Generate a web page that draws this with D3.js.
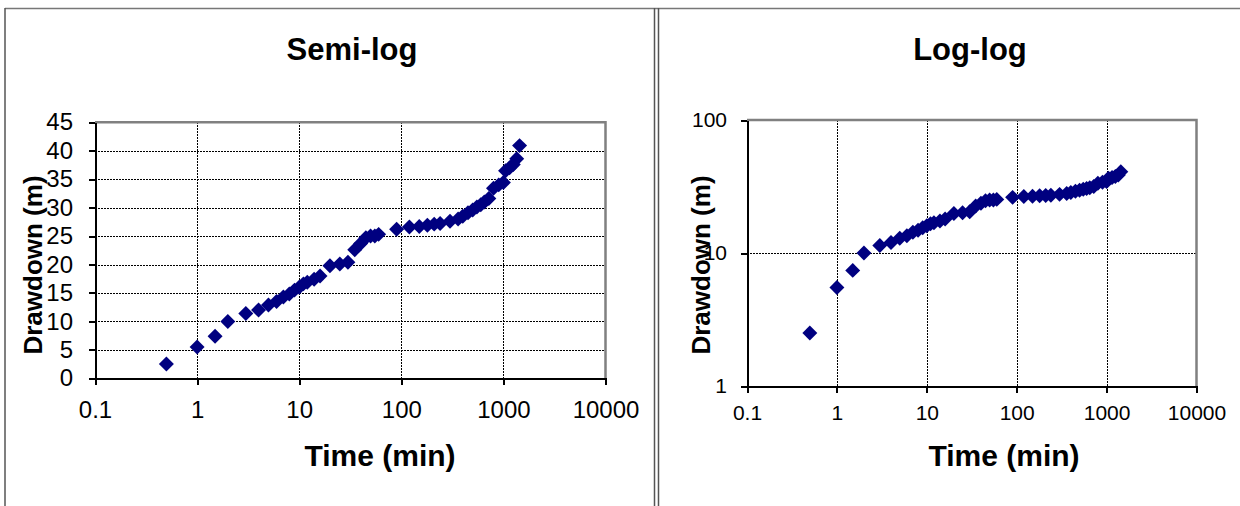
<!DOCTYPE html>
<html>
<head>
<meta charset="utf-8">
<script src="https://cdn.jsdelivr.net/npm/d3@7"></script>
<style>
  body { margin: 0; background: #fff; }
  svg { display: block; font-family: Arial, "Liberation Sans", sans-serif; }
  .grid line { stroke: #000; stroke-width: 1; stroke-dasharray: 2,1; shape-rendering: crispEdges; }
  .axis path, .axis line { stroke: #000; stroke-width: 2; shape-rendering: crispEdges; }
  .axis text { fill: #000; }
</style>
</head>
<body>
<svg width="1240" height="506"></svg>
<script>
// pumping test readings
const timeMin = [0.5, 1, 1.5, 2, 3, 4, 5, 6, 7, 8, 9, 10, 11, 12, 14, 16, 20, 25, 30, 35, 40, 45, 50, 55, 60,
  90, 120, 150, 180, 210, 240, 300, 360, 400, 450, 500, 550, 600, 650, 720, 800, 900, 1000, 1050, 1150, 1250, 1350, 1440];
const drawdown = [2.5, 5.5, 7.4, 10.0, 11.4, 12.0, 12.9, 13.5, 14.3, 14.8, 15.5, 16.0, 16.6, 16.9, 17.4, 18.0, 19.8, 20.1, 20.4, 22.6, 23.7, 24.7, 25.0, 25.0, 25.3,
  26.2, 26.6, 26.7, 26.9, 27.1, 27.2, 27.6, 28.0, 28.5, 29.1, 29.6, 30.1, 30.5, 31.0, 31.6, 33.4, 34.0, 34.4, 36.5, 37.0, 37.6, 38.6, 40.9];

const timeTicks = [0.1, 1, 10, 100, 1000, 10000];
const timeTickLabels = ["0.1", "1", "10", "100", "1000", "10000"];
const semiTicks = [0, 5, 10, 15, 20, 25, 30, 35, 40, 45];
const logTicks = [1, 10, 100];

const points = timeMin.map((t, i) => ({t: t, s: drawdown[i]}));
const svg = d3.select("svg");

// page frame (table cell borders)
svg.append("line").attr("x1", 5).attr("x2", 1240).attr("y1", 8.5).attr("y2", 8.5).attr("stroke", "#777").attr("stroke-width", 1.5);
svg.append("line").attr("x1", 5).attr("x2", 5).attr("y1", 8).attr("y2", 506).attr("stroke", "#555").attr("stroke-width", 1.5);
svg.append("line").attr("x1", 654.5).attr("x2", 654.5).attr("y1", 8).attr("y2", 506).attr("stroke", "#555").attr("stroke-width", 1.5);
svg.append("line").attr("x1", 658.5).attr("x2", 658.5).attr("y1", 8).attr("y2", 506).attr("stroke", "#555").attr("stroke-width", 1.5);

function drawPanel(o) {
  const g = svg.append("g");
  const x = o.x, y = o.y;
  const [x0, x1] = x.range(), [y0, y1] = y.range();

  // gridlines
  g.append("g").attr("class", "grid").selectAll("line")
    .data(timeTicks.slice(1, -1)).enter().append("line")
    .attr("x1", d => Math.round(x(d)) + 0.5).attr("x2", d => Math.round(x(d)) + 0.5)
    .attr("y1", y1).attr("y2", y0);
  g.append("g").attr("class", "grid").selectAll("line")
    .data(o.yTicks.slice(1, -1)).enter().append("line")
    .attr("x1", x0).attr("x2", x1)
    .attr("y1", d => Math.round(y(d)) + 0.5).attr("y2", d => Math.round(y(d)) + 0.5);

  // plot area border (grey top/right)
  g.append("path")
    .attr("d", `M${x0},${y1}H${x1}V${y0}`)
    .attr("fill", "none").attr("stroke", "#808080").attr("stroke-width", 2.5);

  const xAxis = d3.axisBottom(x).tickValues(timeTicks)
    .tickFormat((d, i) => timeTickLabels[i]).tickSize(7).tickSizeOuter(0).tickPadding(o.xPad);
  g.append("g").attr("class", "axis").attr("transform", `translate(0,${y0})`).call(xAxis)
    .selectAll("text").style("font-size", o.tickFont + "px");

  const yAxis = d3.axisLeft(y).tickValues(o.yTicks)
    .tickFormat(d3.format("d")).tickSize(6).tickSizeOuter(0).tickPadding(o.yPad);
  g.append("g").attr("class", "axis").attr("transform", `translate(${x0},0)`).call(yAxis)
    .selectAll("text").style("font-size", o.yTickFont + "px");

  // markers
  g.append("g").selectAll("path").data(points).enter().append("path")
    .attr("d", d3.symbol().type(d3.symbolSquare).size(112))
    .attr("transform", d => `translate(${x(d.t)},${y(d.s)}) rotate(45)`)
    .attr("fill", "#000080");

  // titles
  g.append("text").attr("x", o.titleX).attr("y", 60).attr("text-anchor", "middle")
    .style("font-size", "31px").style("font-weight", "bold").text(o.title);
  g.append("text").attr("x", o.xTitleX).attr("y", 466).attr("text-anchor", "middle")
    .style("font-size", "30px").style("font-weight", "bold").text("Time (min)");
  g.append("text").attr("transform", `translate(${o.yTitleX},265) rotate(-90)`).attr("text-anchor", "middle")
    .style("font-size", "26px").style("font-weight", "bold").text("Drawdown (m)");
}

drawPanel({
  title: "Semi-log", titleX: 352, xTitleX: 380, yTitleX: 42,
  x: d3.scaleLog().domain([0.1, 10000]).range([95, 605.5]),
  y: d3.scaleLinear().domain([0, 45]).range([378.3, 122.3]),
  yTicks: semiTicks, tickFont: 24, yTickFont: 24, xPad: 16, yPad: 16
});

drawPanel({
  title: "Log-log", titleX: 970, xTitleX: 1004, yTitleX: 710,
  x: d3.scaleLog().domain([0.1, 10000]).range([747, 1196.5]),
  y: d3.scaleLog().domain([1, 100]).range([386, 120]),
  yTicks: logTicks, tickFont: 21, yTickFont: 21, xPad: 12, yPad: 14
});
</script>
</body>
</html>
